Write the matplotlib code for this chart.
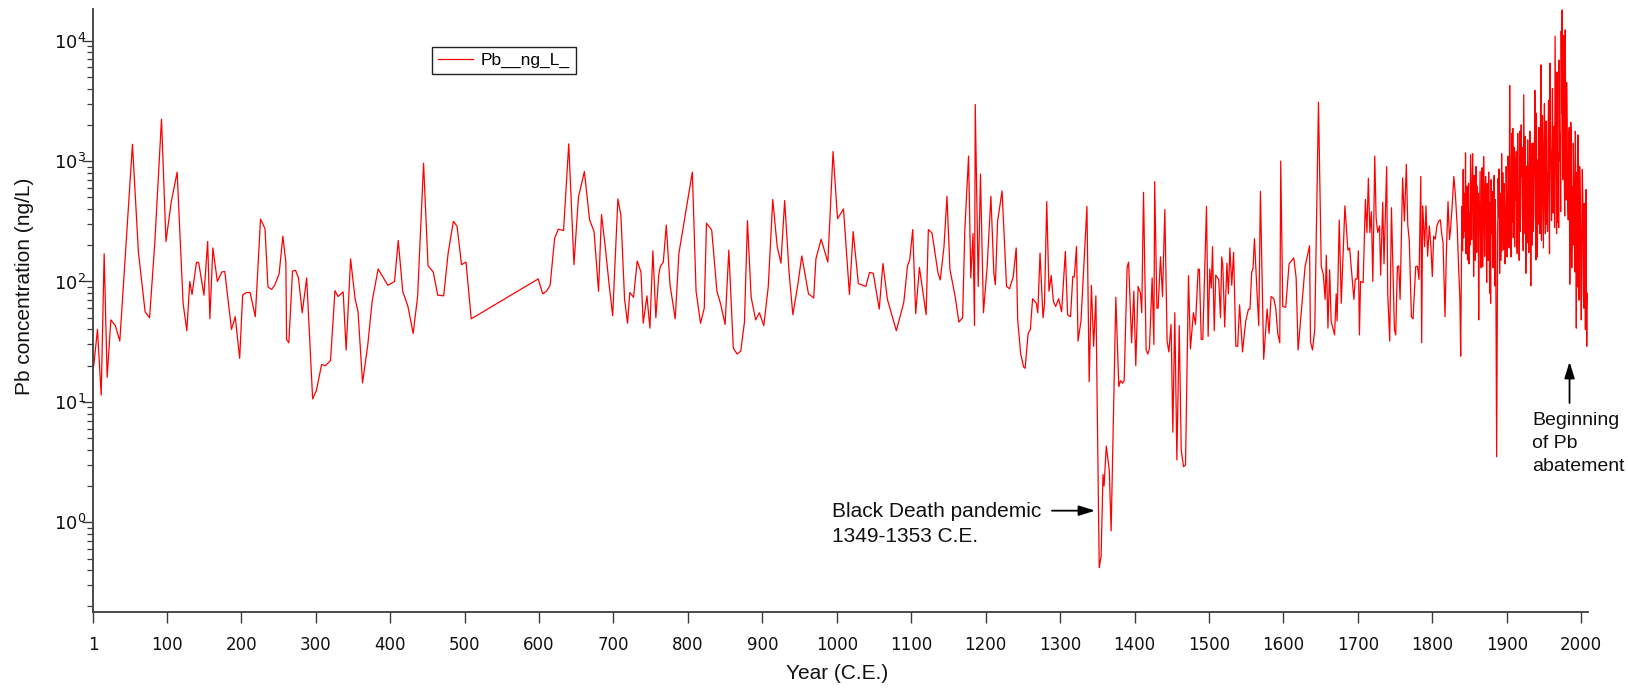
import matplotlib
matplotlib.use("Agg")
import matplotlib.pyplot as plt
import numpy as np
from matplotlib.ticker import LogLocator, NullFormatter, LogFormatterSciNotation

# Pb record, split by era (year C.E., concentration in ng/L)
yr_early = [2, 7, 12, 16, 20, 25, 31, 37, 54, 62, 71, 77, 84, 93, 99, 106, 114, 122, 127, 131,
            134, 140, 143, 150, 155, 158, 162, 168, 174, 178, 187, 192, 198, 202, 207, 212, 219,
            226, 232, 236, 241, 245, 251, 256, 260, 261, 264, 269, 273, 277, 282, 288, 296, 301,
            308, 313, 320, 326, 330, 337, 341, 347, 353, 357, 363, 370, 376, 384, 397]
pb_early = [20, 40, 11.4, 170, 16, 48, 43, 32, 1380, 175, 56, 50, 210, 2230, 215, 455, 810, 66,
            39, 100, 78, 145, 143, 77, 215, 49, 190, 100, 120, 121, 40, 51, 23, 77, 81, 81, 51,
            330, 275, 90, 86, 93, 116, 238, 145, 33, 31, 122, 124, 107, 55, 107, 10.6, 12.4,
            20.4, 20, 22, 84, 75, 82, 27, 154, 72, 56, 14.4, 29.5, 69, 127, 93]

yr_late_antique = [406, 411, 417, 424, 431, 437, 445, 451, 458, 464, 472, 478, 485, 490, 496,
                   502, 509, 599, 605, 610, 615, 621, 626, 633, 640, 647, 653, 661, 668, 674,
                   680, 684, 689, 694, 699, 706, 710, 715, 719, 722, 727, 732]
pb_late_antique = [100, 219, 83, 62, 37, 75, 960, 135, 120, 77, 76, 172, 316, 287, 138, 145, 49,
                   105, 79, 83, 93, 228, 272, 265, 1390, 138, 500, 820, 325, 260, 83, 360, 195,
                   97, 52, 485, 357, 71, 45, 81, 74, 148]

yr_medieval = [737, 740, 745, 749, 753, 757, 761, 763, 767, 771, 776, 783, 788, 806, 811, 817,
               822, 825, 832, 839, 844, 850, 855, 861, 866, 871, 876, 880, 885, 891, 896, 902,
               908, 914, 920, 925, 930, 936, 941, 948, 953, 962, 969, 972, 979, 988, 995, 1001,
               1009, 1017, 1022, 1029, 1039, 1044, 1049, 1057, 1062, 1068, 1080, 1090, 1095,
               1098, 1102, 1106, 1111, 1120, 1123, 1128, 1136, 1139, 1144, 1148, 1152, 1159,
               1164, 1169, 1172, 1177, 1180, 1183, 1185, 1186, 1190, 1193, 1197, 1202, 1207,
               1211, 1213, 1216, 1222, 1228, 1232, 1237, 1241, 1243, 1247, 1251, 1253, 1257,
               1260, 1263, 1268, 1270, 1273, 1277, 1279, 1282, 1285, 1288, 1291, 1294, 1298,
               1302, 1307, 1310, 1314, 1317, 1319, 1322, 1324, 1328, 1336, 1339, 1342, 1345, 1348]
pb_medieval = [120, 45, 76, 41, 180, 50, 115, 133, 145, 294, 94, 49, 172, 810, 83, 45, 60, 305,
               268, 83, 65, 44, 182, 28, 25, 26.4, 46, 320, 74, 48, 55, 43, 91, 480, 195, 142,
               470, 117, 53, 97, 163, 79, 73, 155, 224, 145, 1200, 332, 400, 78, 260, 96, 91,
               119, 117, 59, 141, 71, 39, 67, 135, 151, 270, 54, 131, 53, 270, 252, 117, 103,
               195, 510, 126, 75, 46, 50, 270, 1100, 107, 250, 43, 2950, 91, 780, 55, 133, 510,
               117, 94, 316, 565, 91, 87, 110, 190, 48, 25, 19.5, 19, 37, 40, 72, 66, 55, 172,
               50, 65, 460, 83, 112, 68, 62, 72, 56, 178, 53, 51, 110, 109, 195, 32, 47, 420,
               14.7, 93, 29, 76]

yr_plague = [1352.5, 1355, 1357.6, 1359, 1362, 1366, 1368.5, 1374.8, 1378.8, 1381, 1383.8, 1386,
             1390, 1392, 1396, 1399, 1401.6, 1404.7, 1407.9, 1409.6, 1412, 1415.5, 1417.8, 1420,
             1423.6, 1425.9, 1427, 1430, 1431.6, 1434.8, 1437.5, 1440.6, 1443.7, 1446, 1449,
             1451.4, 1454, 1456.8, 1460, 1462.6, 1465.7, 1468.4, 1472.4, 1475, 1479, 1481.8,
             1485.4, 1487, 1489.5, 1491.6, 1496.6, 1498.8, 1501, 1503, 1504.7, 1507, 1509,
             1511.5, 1513, 1515.4, 1517, 1518.5, 1521, 1524, 1526, 1528, 1530.5, 1533, 1536,
             1538.5, 1541, 1545, 1547.4, 1549.6, 1553, 1555, 1557.3, 1559, 1561, 1564.5, 1566.8]
pb_plague = [0.42, 0.52, 2.5, 2.0, 4.3, 2.7, 0.85, 74, 13.4, 15, 14.3, 15, 131, 145, 31, 83, 20,
             91, 80, 55, 550, 27, 25, 28, 107, 30, 675, 60, 60, 160, 75, 395, 32, 26, 44, 5.6,
             55, 3.3, 43, 4.0, 2.9, 3.0, 112, 27.5, 55, 44, 127, 126, 33, 33, 420, 35, 127, 88,
             195, 39, 113, 107, 104, 50, 160, 135, 42, 142, 79, 190, 93, 175, 29, 29, 64, 26,
             37, 48, 59, 59, 120, 127, 227, 80, 43]

yr_early_modern = [1569, 1573.4, 1578, 1580.6, 1583.3, 1587, 1589.6, 1592.3, 1595, 1596.3, 1599,
                   1603, 1607.5, 1613.8, 1617, 1619.6, 1625, 1629, 1635, 1636.3, 1639, 1642,
                   1647, 1650.7, 1653.4, 1656, 1657.5, 1659.7, 1662, 1664, 1668.6, 1670.8, 1672,
                   1674.9, 1677.6, 1682.5, 1686.5, 1688.8, 1694.6, 1696.4, 1699, 1700.5, 1702,
                   1703.5, 1707, 1710, 1712, 1714, 1716, 1718, 1720, 1722.6, 1724.4, 1726.6,
                   1729, 1730.5, 1733.3, 1735, 1738.6, 1740, 1742.7, 1745, 1747, 1749, 1750.7,
                   1753, 1754.8, 1756.6, 1760, 1762.4, 1765, 1766.9, 1769, 1771.8, 1774, 1777.6,
                   1780, 1782, 1784.4, 1785.6, 1787]
pb_early_modern = [560, 22.6, 59, 37, 75, 72, 60, 37, 31, 1000, 62, 61, 140, 157, 107, 27, 68,
                   133, 198, 31.5, 27, 40, 3080, 134, 115, 71, 165, 41, 125, 47, 36, 79, 47,
                   324, 66, 425, 182, 190, 71, 105, 105, 180, 36, 100, 98, 480, 255, 720, 255,
                   380, 100, 1100, 336, 255, 290, 113, 455, 140, 900, 79, 32, 410, 125, 40, 36,
                   133, 135, 71, 725, 317, 940, 297, 215, 51, 49, 133, 134, 104, 745, 31, 425]

yr_industrial = [1789.6, 1791.4, 1793.6, 1795.9, 1798, 1799.9, 1801.7, 1804, 1806, 1808.4,
                 1810.7, 1812.5, 1814.3, 1816, 1817, 1818.8, 1821, 1823, 1824.3, 1826.5, 1828.8,
                 1831, 1833.3, 1835, 1837, 1838, 1839.6, 1841.4, 1842.7, 1844.5, 1846, 1847.2,
                 1848.6, 1850, 1851.3, 1852.7, 1854, 1855.4, 1856.7, 1858, 1859.5, 1860.8,
                 1862.2, 1863.5, 1864.8, 1866.2, 1867.5, 1868.8, 1870.2, 1871.5, 1872.9, 1874.2,
                 1875.6, 1876.9, 1878.2, 1879.6, 1881, 1882.3, 1883.6, 1885, 1886.3, 1887.6,
                 1889, 1890.3, 1891.7, 1893, 1894.4, 1895.7, 1897, 1898.4, 1899.8, 1901, 1902.5,
                 1903.8, 1905, 1906.5, 1908, 1909.2, 1910.5, 1912, 1913.3, 1914.6, 1916, 1917.3,
                 1918.7, 1920, 1921.4, 1922.7, 1924, 1925.5, 1926.8, 1928, 1929.5, 1930.9,
                 1932.2, 1933.5, 1935, 1936.3, 1937.6, 1939, 1940.4, 1941.7, 1943, 1944.5,
                 1945.8, 1947.2, 1948.5, 1949.8, 1951.2, 1952.5, 1954, 1955.3, 1956.6, 1958,
                 1959.4, 1960.7, 1962, 1963.5, 1964.8, 1966.2, 1967.5, 1969, 1970.2, 1971.6,
                 1973, 1974.3, 1975.6, 1977, 1978.4, 1979.7, 1981, 1982.5, 1983.8, 1985.2,
                 1986.5, 1988, 1989.2, 1990.6, 1992, 1993.3, 1994.6, 1995.5, 1997, 1998.7, 2000,
                 2001.4, 2002.7, 2004, 2005.5, 2006.4, 2007.3, 2008.2]
pb_industrial = [195, 425, 162, 290, 195, 110, 238, 225, 290, 316, 325, 250, 209, 85, 51, 174,
                 460, 222, 270, 420, 745, 510, 290, 142, 70, 24, 420, 850, 540, 1170, 475, 151,
                 655, 370, 1130, 222, 1150, 110, 370, 680, 174, 290, 48, 475, 195, 540, 133,
                 1090, 162, 745, 98, 420, 810, 80, 66, 250, 183, 540, 92, 250, 3.5, 206, 345,
                 117, 250, 1150, 370, 183, 420, 222, 475, 250, 540, 4250, 325, 1700, 1870, 795,
                 195, 475, 222, 1700, 540, 1770, 420, 745, 290, 3550, 250, 117, 910, 1500, 174,
                 1770, 92, 475, 1410, 370, 3870, 151, 540, 1020, 1900, 250, 6300, 680, 610,
                 1320, 420, 2150, 795, 1500, 540, 6500, 910, 1500, 370, 1950, 10900, 610, 5500,
                 1170, 6900, 1700, 12000, 18000, 3250, 910, 12300, 475, 1950, 325, 1900, 250,
                 1700, 610, 1410, 290, 1770, 41, 151, 1650, 70, 445, 48, 850, 76, 445, 40, 580,
                 29, 80]

# Sub-annual samples of the densely resolved recent section
yr_recent_fine = [1840.5, 1842, 1843.6, 1845.2, 1846.6, 1847.9, 1849.3, 1850.6, 1852, 1853.3,
                  1854.7, 1856, 1857.3, 1858.7, 1860.1, 1861.5, 1862.8, 1864.1, 1865.5, 1866.8,
                  1868.1, 1869.5, 1870.8, 1872.2, 1873.5, 1874.9, 1876.2, 1877.5, 1878.9, 1880.3,
                  1881.6, 1883, 1884.3, 1888.3, 1889.6, 1891, 1892.3, 1893.7, 1895, 1896.3,
                  1897.7, 1899.1, 1900.4, 1901.7, 1903.1, 1904.4, 1905.7, 1907.2, 1908.6, 1909.9,
                  1911.2, 1912.6, 1914, 1915.3, 1916.6, 1918, 1919.3, 1920.7, 1922, 1923.3,
                  1924.8, 1926.1, 1927.4, 1928.7, 1930.2, 1931.5, 1932.8, 1934.2, 1935.6, 1937,
                  1938.3, 1939.7, 1941, 1942.3, 1943.7, 1945.1, 1946.5, 1947.8, 1949.1, 1950.5,
                  1951.8, 1953.2, 1954.6, 1956, 1957.3, 1958.7, 1960, 1961.3, 1962.7, 1964.1,
                  1965.5, 1966.8, 1968.2, 1969.6, 1970.9, 1972.3, 1973.6, 1975, 1976.3, 1977.7,
                  1979, 1980.3, 1981.7, 1983.1, 1984.5, 1985.8, 1987.2, 1988.6, 1989.9, 1991.3,
                  1992.6, 1994, 1995, 1996.2, 1997.8, 1999.3, 2000.7, 2002, 2003.4, 2004.7,
                  2006, 2006.8]
pb_recent_fine = [180, 230, 260, 170, 620, 420, 140, 200, 520, 560, 430, 760, 150, 900, 620,
                  540, 240, 820, 130, 880, 300, 480, 560, 330, 650, 150, 380, 450, 700, 560,
                  130, 760, 480, 720, 860, 540, 150, 180, 800, 650, 140, 900, 160, 1100, 190,
                  900, 160, 310, 230, 1300, 1050, 1200, 170, 280, 150, 260, 2000, 1300, 180,
                  900, 1600, 420, 210, 700, 520, 600, 1400, 200, 260, 1100, 1600, 2500, 160,
                  300, 1200, 1700, 220, 2400, 190, 3000, 250, 300, 260, 3200, 170, 1300, 320,
                  4000, 600, 280, 2300, 250, 310, 280, 1000, 380, 2500, 700, 11000, 350, 2200,
                  4500, 480, 1400, 95, 2100, 130, 200, 900, 120, 600, 800, 90, 600, 900, 120,
                  300, 500, 60, 200, 110, 60]

xtick_years = [1] + list(range(100, 2001, 100))
xtick_labels = [str(v) for v in xtick_years]

years = np.concatenate([yr_early, yr_late_antique, yr_medieval, yr_plague,
                        yr_early_modern, yr_industrial, yr_recent_fine])
pb = np.concatenate([pb_early, pb_late_antique, pb_medieval, pb_plague,
                     pb_early_modern, pb_industrial, pb_recent_fine])
order = np.argsort(years, kind="stable")
years, pb = years[order], pb[order]

SANS = "Liberation Sans"
AXIS_GREY = "#3c3c3c"
INK = "#111111"

fig = plt.figure(figsize=(16.28, 6.89), dpi=100)
ax = fig.add_axes([93 / 1628, 1 - 612 / 689, 1495 / 1628, 603.5 / 689])

ax.plot(years, pb, color="#ff0000", lw=0.9, label="Pb__ng_L_")

ax.set_yscale("log")
ax.set_xlim(1, 2009)
ax.set_ylim(0.18, 18500)

ax.set_xticks(xtick_years)
ax.set_xticklabels(xtick_labels)
ax.yaxis.set_major_locator(LogLocator(base=10, numticks=12))
ax.yaxis.set_major_formatter(LogFormatterSciNotation(base=10))
ax.yaxis.set_minor_locator(LogLocator(base=10, subs=np.arange(2, 10), numticks=12))
ax.yaxis.set_minor_formatter(NullFormatter())

for side in ("top", "right"):
    ax.spines[side].set_visible(False)
for side in ("left", "bottom"):
    ax.spines[side].set_color(AXIS_GREY)
    ax.spines[side].set_linewidth(1.3)

ax.tick_params(axis="x", which="major", direction="out", length=8, width=1.0,
               color=AXIS_GREY, labelsize=12, labelcolor=INK, pad=9)
ax.tick_params(axis="y", which="major", direction="out", length=8, width=1.0,
               color=AXIS_GREY, labelsize=13, labelcolor=INK, pad=-3)
ax.tick_params(axis="y", which="minor", direction="out", length=4.5, width=0.9,
               color=AXIS_GREY)

ax.set_ylabel("Pb concentration (ng/L)", fontsize=15, family=SANS, color=INK)
ax.yaxis.set_label_coords(-0.0395, 0.54)
ax.set_xlabel("Year (C.E.)", fontsize=15, family=SANS, color=INK)
ax.xaxis.set_label_coords(0.498, -0.086)

leg = ax.legend(loc="upper left", bbox_to_anchor=(0.227, 0.937), frameon=True,
                fancybox=False, framealpha=1, edgecolor="#222222", borderpad=0.35,
                handlelength=2.0, handletextpad=0.45, borderaxespad=0,
                prop={"family": SANS, "size": 12.5})
leg.get_frame().set_linewidth(1.0)

arrow_kw = dict(arrowstyle="-|>,head_length=0.7,head_width=0.22", color="black",
                lw=1.3, mutation_scale=14, shrinkA=0, shrinkB=0)

ax.text(993.5, 1.47, "Black Death pandemic\n1349-1353 C.E.", family=SANS, fontsize=15,
        ha="left", va="top", linespacing=1.42, color=INK)
ax.annotate("", xy=(1347, 1.25), xytext=(1289, 1.25), arrowprops=arrow_kw)

ax.text(1933.7, 8.3, "Beginning\nof Pb\nabatement", family=SANS, fontsize=14,
        ha="left", va="top", linespacing=1.47, color=INK)
ax.annotate("", xy=(1984.2, 21.5), xytext=(1984.2, 9.8), arrowprops=arrow_kw)

fig.savefig("out.png", dpi=100)
